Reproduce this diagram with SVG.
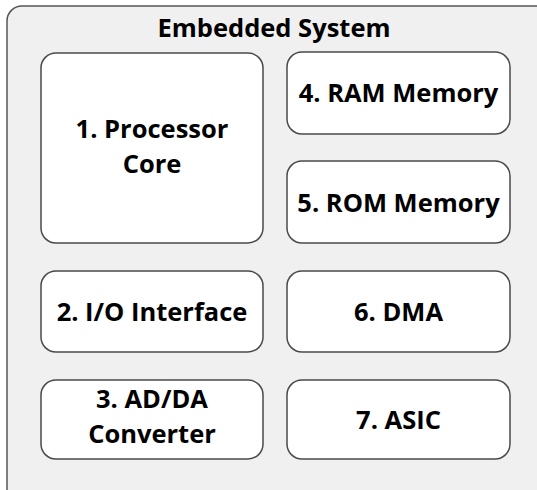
<svg xmlns="http://www.w3.org/2000/svg" width="537" height="490" viewBox="0 0 537 490">
<style>
.outer{fill:#f0f0f0;stroke:#555;stroke-width:1.5}
.box{fill:#fff;stroke:#4a4a4a;stroke-width:1.5}
text{font-family:"Open Sans","Liberation Sans",sans-serif;font-weight:700;font-size:25.5px;fill:#000;text-anchor:middle}
</style>
<g id="embedded-system">
<rect class="outer" x="7" y="6" width="545" height="500" rx="15"/>
<text x="274" y="37">Embedded System</text>
</g>
<g id="node1">
<rect class="box" x="41" y="53" width="222" height="190" rx="15"/>
<text x="152" y="138">1. Processor</text>
<text x="152" y="173">Core</text>
</g>
<g id="node2">
<rect class="box" x="41" y="271" width="222" height="81" rx="15"/>
<text x="152" y="321">2. I/O Interface</text>
</g>
<g id="node3">
<rect class="box" x="41" y="380" width="222" height="79" rx="15"/>
<text x="152" y="408">3. AD/DA</text>
<text x="152" y="443">Converter</text>
</g>
<g id="node4">
<rect class="box" x="287" y="52" width="223" height="82" rx="15"/>
<text x="398.5" y="102">4. RAM Memory</text>
</g>
<g id="node5">
<rect class="box" x="287" y="161" width="223" height="82" rx="15"/>
<text x="398.5" y="212">5. ROM Memory</text>
</g>
<g id="node6">
<rect class="box" x="287" y="271" width="223" height="81" rx="15"/>
<text x="398.5" y="321">6. DMA</text>
</g>
<g id="node7">
<rect class="box" x="287" y="380" width="223" height="79" rx="15"/>
<text x="398.5" y="429">7. ASIC</text>
</g>
<g id="connectors"></g>
</svg>
